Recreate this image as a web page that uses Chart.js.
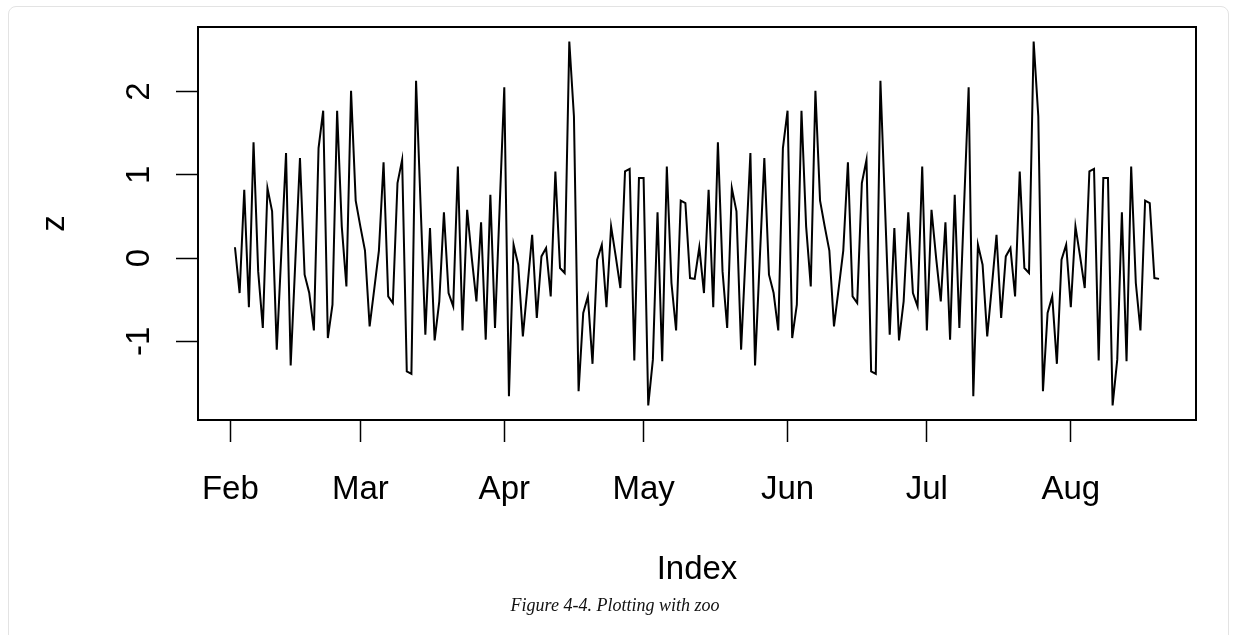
<!DOCTYPE html>
<html>
<head>
<meta charset="utf-8">
<script src="https://cdn.jsdelivr.net/npm/chart.js@4"></script>
<style>
    html, body { margin: 0; padding: 0; background: #fff; }
    .card {
        position: absolute;
        left: 8px;
        top: 6px;
        width: 1219px;
        height: 640px;
        border: 1px solid #e3e3e3;
        border-radius: 8px;
    }
    #zoo-chart { position: absolute; left: 0; top: 0; }
    .caption {
        position: absolute;
        left: 0;
        width: 1230px;
        top: 596px;
        text-align: center;
        font: italic 18px "Liberation Serif", "DejaVu Serif", serif;
        line-height: 18px;
        color: #111;
    }
</style>
</head>
<body>
<div class="card"></div>
<canvas id="zoo-chart" width="1235" height="635"></canvas>
<div class="caption">Figure 4-4. Plotting with zoo</div>

<script>
// days counted from Feb 1; first observation is Feb 2
const firstDay = 1;

const zValues = [
    0.13, -0.42, 0.82, -0.59, 1.39, -0.16, -0.84, 0.84, 0.56, -1.10,
    0.08, 1.26, -1.29, -0.04, 1.20, -0.20, -0.42, -0.87, 1.32, 1.77,
    -0.96, -0.56, 1.77, 0.38, -0.34, 2.01, 0.69, 0.38, 0.09, -0.82,
    -0.37, 0.09, 1.15, -0.46, -0.54, 0.90, 1.18, -1.36, -1.39, 2.13,
    0.60, -0.92, 0.36, -0.99, -0.52, 0.55, -0.42, -0.58, 1.10, -0.87,
    0.58, 0.00, -0.52, 0.43, -0.98, 0.76, -0.84, 0.61, 2.05, -1.66,
    0.16, -0.08, -0.94, -0.34, 0.28, -0.72, 0.02, 0.12, -0.46, 1.04,
    -0.12, -0.18, 2.60, 1.70, -1.60, -0.66, -0.46, -1.27, -0.02, 0.16,
    -0.59, 0.38, 0.02, -0.36, 1.04, 1.07, -1.23, 0.96, 0.96, -1.77,
    -1.22, 0.55, -1.24, 1.10, -0.30, -0.87, 0.69, 0.66, -0.24, -0.25,
    0.13, -0.42, 0.82, -0.59, 1.39, -0.16, -0.84, 0.84, 0.56, -1.10,
    0.08, 1.26, -1.29, -0.04, 1.20, -0.20, -0.42, -0.87, 1.32, 1.77,
    -0.96, -0.56, 1.77, 0.38, -0.34, 2.01, 0.69, 0.38, 0.09, -0.82,
    -0.37, 0.09, 1.15, -0.46, -0.54, 0.90, 1.18, -1.36, -1.39, 2.13,
    0.60, -0.92, 0.36, -0.99, -0.52, 0.55, -0.42, -0.58, 1.10, -0.87,
    0.58, 0.00, -0.52, 0.43, -0.98, 0.76, -0.84, 0.61, 2.05, -1.66,
    0.16, -0.08, -0.94, -0.34, 0.28, -0.72, 0.02, 0.12, -0.46, 1.04,
    -0.12, -0.18, 2.60, 1.70, -1.60, -0.66, -0.46, -1.27, -0.02, 0.16,
    -0.59, 0.38, 0.02, -0.36, 1.04, 1.07, -1.23, 0.96, 0.96, -1.77,
    -1.22, 0.55, -1.24, 1.10, -0.30, -0.87, 0.69, 0.66, -0.24, -0.25
];

const monthStarts = [0, 28, 59, 89, 120, 150, 181];
const monthLabels = ['Feb', 'Mar', 'Apr', 'May', 'Jun', 'Jul', 'Aug'];
const yTicks = [-1, 0, 1, 2];

const points = zValues.map((v, i) => ({ x: firstDay + i, y: v }));

// R-style 4% padding around the data range
const xFirst = firstDay;
const xLast = firstDay + zValues.length - 1;
const xPad = (xLast - xFirst) * 0.04;
const yMin = Math.min(...zValues);
const yMax = Math.max(...zValues);
const yPad = (yMax - yMin) * 0.04;

const axisFont = { family: '"Liberation Sans", Arial, sans-serif', size: 33 };

const boxPlugin = {
    id: 'rbox',
    afterDraw(chart) {
        const { ctx, chartArea } = chart;
        ctx.save();
        ctx.strokeStyle = '#000';
        ctx.lineWidth = 2;
        ctx.strokeRect(chartArea.left, chartArea.top,
            chartArea.right - chartArea.left, chartArea.bottom - chartArea.top);
        ctx.restore();
    }
};

new Chart(document.getElementById('zoo-chart'), {
    type: 'line',
    data: {
        datasets: [{
            label: 'z',
            data: points,
            borderColor: '#000',
            borderWidth: 2,
            pointRadius: 0,
            tension: 0,
            fill: false
        }]
    },
    options: {
        responsive: false,
        animation: false,
        devicePixelRatio: 1,
        layout: {
            padding: { top: 27, right: 39, bottom: 0, left: 0 }
        },
        plugins: {
            legend: { display: false },
            tooltip: { enabled: false }
        },
        scales: {
            x: {
                type: 'linear',
                min: xFirst - xPad,
                max: xLast + xPad,
                afterBuildTicks: (scale) => {
                    scale.ticks = monthStarts.map(v => ({ value: v }));
                },
                afterFit: (scale) => {
                    scale.height = 215;
                    scale.paddingLeft = 0;
                    scale.paddingRight = 0;
                },
                ticks: {
                    autoSkip: false,
                    maxRotation: 0,
                    padding: 28,
                    color: '#000',
                    font: axisFont,
                    callback: (value) => monthLabels[monthStarts.indexOf(value)]
                },
                grid: {
                    drawOnChartArea: false,
                    tickLength: 22,
                    tickColor: '#000',
                    tickWidth: 1.5
                },
                border: { display: false },
                title: {
                    display: true,
                    text: 'Index',
                    color: '#000',
                    font: axisFont,
                    padding: { top: 0, bottom: 45 }
                }
            },
            y: {
                min: yMin - yPad,
                max: yMax + yPad,
                afterBuildTicks: (scale) => {
                    scale.ticks = yTicks.map(v => ({ value: v }));
                },
                afterFit: (scale) => {
                    scale.width = 198;
                    scale.paddingTop = 0;
                    scale.paddingBottom = 0;
                },
                ticks: {
                    minRotation: 90,
                    maxRotation: 90,
                    crossAlign: 'center',
                    padding: 21,
                    color: '#000',
                    font: axisFont
                },
                grid: {
                    drawOnChartArea: false,
                    tickLength: 22,
                    tickColor: '#000',
                    tickWidth: 1.5
                },
                border: { display: false },
                title: {
                    display: true,
                    text: 'z',
                    color: '#000',
                    font: axisFont,
                    padding: { top: 35, bottom: 0 }
                }
            }
        }
    },
    plugins: [boxPlugin]
});
</script>
</body>
</html>
